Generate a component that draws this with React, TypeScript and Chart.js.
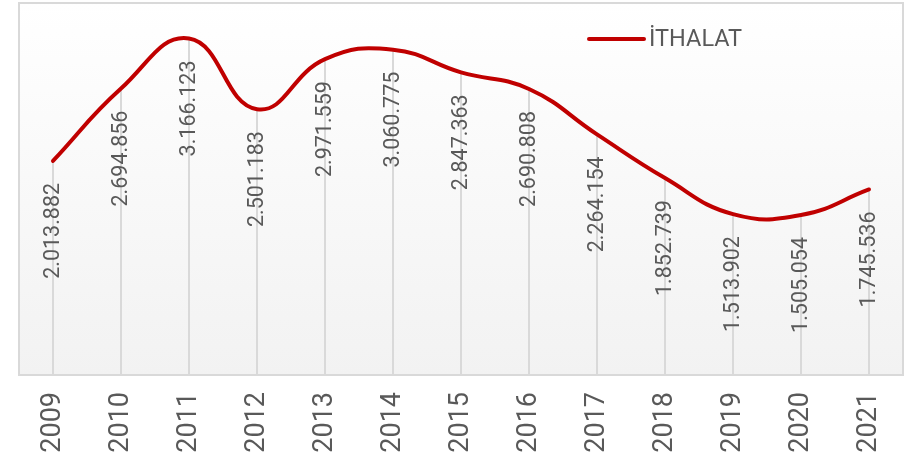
import React, { useEffect, useRef } from "react";
import { Chart, registerables } from "chart.js";

Chart.register(...registerables);

const years = ["2009", "2010", "2011", "2012", "2013", "2014", "2015", "2016", "2017", "2018", "2019", "2020", "2021"];
const ithalat = [2013882, 2694856, 3166123, 2501183, 2971559, 3060775, 2847363, 2690808, 2264154, 1852739, 1513902, 1505054, 1745536];
const seriesName = "İTHALAT";

const LINE_COLOR = "#C00000";
const TEXT_COLOR = "#595959";
const GRID_COLOR = "#d9d9d9";
const FONT = "Roboto";

function fmt(v: number): string {
  return String(Math.round(v)).replace(/\B(?=(\d{3})+(?!\d))/g, ".");
}

const decorPlugin = {
  id: "decor",
  beforeDraw(chart: any) {
    const { ctx, chartArea } = chart;
    const { left, right, top, bottom } = chartArea;
    ctx.save();
    const g = ctx.createLinearGradient(0, top, 0, bottom);
    g.addColorStop(0, "#ffffff");
    g.addColorStop(1, "#f2f2f2");
    ctx.fillStyle = g;
    ctx.fillRect(left, top, right - left, bottom - top);
    ctx.strokeStyle = GRID_COLOR;
    ctx.lineWidth = 2;
    ctx.strokeRect(left, top, right - left, bottom - top);
    ctx.restore();
  },
  beforeDatasetsDraw(chart: any) {
    const { ctx, chartArea } = chart;
    const meta = chart.getDatasetMeta(0);
    ctx.save();
    ctx.strokeStyle = GRID_COLOR;
    ctx.lineWidth = 2;
    meta.data.forEach((pt: any) => {
      ctx.beginPath();
      ctx.moveTo(Math.round(pt.x), pt.y);
      ctx.lineTo(Math.round(pt.x), chartArea.bottom);
      ctx.stroke();
    });
    ctx.restore();
  },
  afterDatasetsDraw(chart: any) {
    const { ctx, chartArea } = chart;
    const meta = chart.getDatasetMeta(0);
    const vals = chart.data.datasets[0].data as number[];
    ctx.save();
    ctx.fillStyle = TEXT_COLOR;
    ctx.font = `21.5px ${FONT}`;
    ctx.textAlign = "right";
    ctx.textBaseline = "middle";
    meta.data.forEach((pt: any, i: number) => {
      ctx.save();
      ctx.translate(pt.x, pt.y + 22);
      ctx.rotate(-Math.PI / 2);
      ctx.fillText(fmt(vals[i]), 0, 1);
      ctx.restore();
    });
    // legend
    const lx = chartArea.left + 570;
    const ly = chartArea.top + 36;
    ctx.strokeStyle = LINE_COLOR;
    ctx.lineWidth = 4;
    ctx.lineCap = "round";
    ctx.beginPath();
    ctx.moveTo(lx, ly);
    ctx.lineTo(lx + 55, ly);
    ctx.stroke();
    ctx.font = `23.5px ${FONT}`;
    ctx.textAlign = "left";
    ctx.textBaseline = "middle";
    ctx.fillText(chart.data.datasets[0].label, lx + 60, ly + 1);
    ctx.restore();
  },
};

export default function App() {
  const ref = useRef<HTMLCanvasElement | null>(null);
  useEffect(() => {
    if (!ref.current) return;
    const chart = new Chart(ref.current, {
      type: "line",
      data: {
        labels: years,
        datasets: [
          {
            label: seriesName,
            data: ithalat,
            borderColor: LINE_COLOR,
            backgroundColor: LINE_COLOR,
            borderWidth: 4,
            pointRadius: 0,
            tension: 0.45,
            borderCapStyle: "round",
            fill: false,
          },
        ],
      },
      options: {
        animation: false,
        responsive: true,
        maintainAspectRatio: false,
        layout: { padding: { left: 19, right: 2, top: 3, bottom: 0 } },
        plugins: { legend: { display: false }, tooltip: { enabled: false } },
        scales: {
          x: {
            offset: true,
            grid: { display: false, drawTicks: false },
            border: { display: false },
            ticks: {
              color: TEXT_COLOR,
              font: { family: FONT, size: 27 },
              minRotation: 90,
              maxRotation: 90,
              padding: 17,
            },
            afterFit(scale: any) {
              scale.height = 86;
              scale.paddingLeft = 0;
              scale.paddingRight = 0;
            },
          },
          y: {
            display: false,
            min: 0,
            max: 3500000,
          },
        },
      },
      plugins: [decorPlugin],
    });
    return () => chart.destroy();
  }, []);
  return (
    <div style={{ position: "absolute", left: 0, top: 0, width: 905, height: 461 }}>
      <canvas ref={ref} />
    </div>
  );
}
